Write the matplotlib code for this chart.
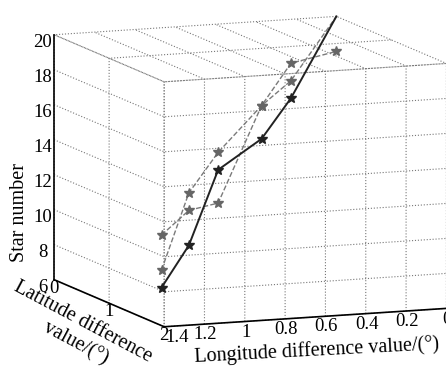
import matplotlib.pyplot as plt
import numpy as np

# data (shared lat/lon per point, star number per series)
lat_diff = [1.0, 0.8, 0.6, 0.4, 0.2, 0.0]
lon_diff = [1.14, 0.95, 0.75, 0.48, 0.28, 0.0]
stars_black = [6.7, 8.7, 12.6, 13.9, 15.8, 20.0]
stars_gray1 = [7.7, 11.7, 13.6, 15.8, 17.8, 18.0]
stars_gray2 = [9.7, 10.7, 10.7, 15.8, 16.8, 20.0]

lat_ticks = [0, 1, 2]
lon_ticks = [0, 0.2, 0.4, 0.6, 0.8, 1.0, 1.2, 1.4]
lon_labels = ["0", "0.2", "0.4", "0.6", "0.8", "1", "1.2", "1.4"]
z_ticks = [6, 8, 10, 12, 14, 16, 18, 20]

plt.rcParams['font.family'] = 'Liberation Serif'
plt.rcParams['font.size'] = 13.5
plt.rcParams['grid.linestyle'] = ':'
plt.rcParams['grid.color'] = '#777777'
plt.rcParams['grid.linewidth'] = 0.8

fig = plt.figure(figsize=(4.46, 3.67), dpi=100)
ax = fig.add_axes([0.05, 0.019, 1.0, 1.0], projection='3d', proj_type='ortho')
ax.set_box_aspect((1, 1, 0.82), zoom=1.31)
ax.view_init(elev=-9.6, azim=-158.7)

ax.plot(lat_diff, lon_diff, stars_gray1, color='#7a7a7a', lw=1.0, ls='--',
        marker='*', ms=7, mec='#666666', mfc='#666666')
ax.plot(lat_diff, lon_diff, stars_gray2, color='#7a7a7a', lw=1.0, ls='--',
        marker='*', ms=7, mec='#666666', mfc='#666666', markevery=[0, 1, 2, 3, 4])
ax.plot(lat_diff, lon_diff, stars_black, color='#222222', lw=1.4,
        marker='*', ms=7, markevery=[0, 1, 2, 3, 4])

ax.set_xlim(0, 2)
ax.set_ylim(0, 1.4)
ax.set_zlim(6, 20)
ax.set_xticks(lat_ticks)
ax.set_yticks(lon_ticks)
ax.set_yticklabels(lon_labels)
ax.set_zticks(z_ticks)
ax.xaxis.set_ticks_position('lower')
ax.yaxis.set_ticks_position('lower')
ax.tick_params(axis='x', pad=-8)
ax.tick_params(axis='y', pad=-7)
ax.tick_params(axis='z', pad=-4)
# keep "1.4" clear of the latitude "2" at the shared corner
ax.yaxis.get_major_ticks()[-1].label1.set_horizontalalignment('left')

for axis in (ax.xaxis, ax.yaxis, ax.zaxis):
    axis.set_pane_color((1, 1, 1, 0))
    axis.pane.set_edgecolor('none')
    axis.line.set_color('black')
    axis.line.set_linewidth(1.2)
    axis._axinfo['tick']['inward_factor'] = 0
    axis._axinfo['tick']['outward_factor'] = 0

fig.text(0.043, 0.42, "Star number", rotation=90, ha='center', va='center',
         fontsize=14.5)
fig.text(0.186, 0.123, "Latitude difference", rotation=-28,
         ha='center', va='center', fontsize=14.5)
fig.text(0.170, 0.065, "value/(°)", rotation=-28,
         ha='center', va='center', fontsize=14.5)
fig.text(0.71, 0.045, "Longitude difference value/(°)", rotation=3,
         ha='center', va='center', fontsize=14.5)

plt.savefig('out.png', dpi=100)
